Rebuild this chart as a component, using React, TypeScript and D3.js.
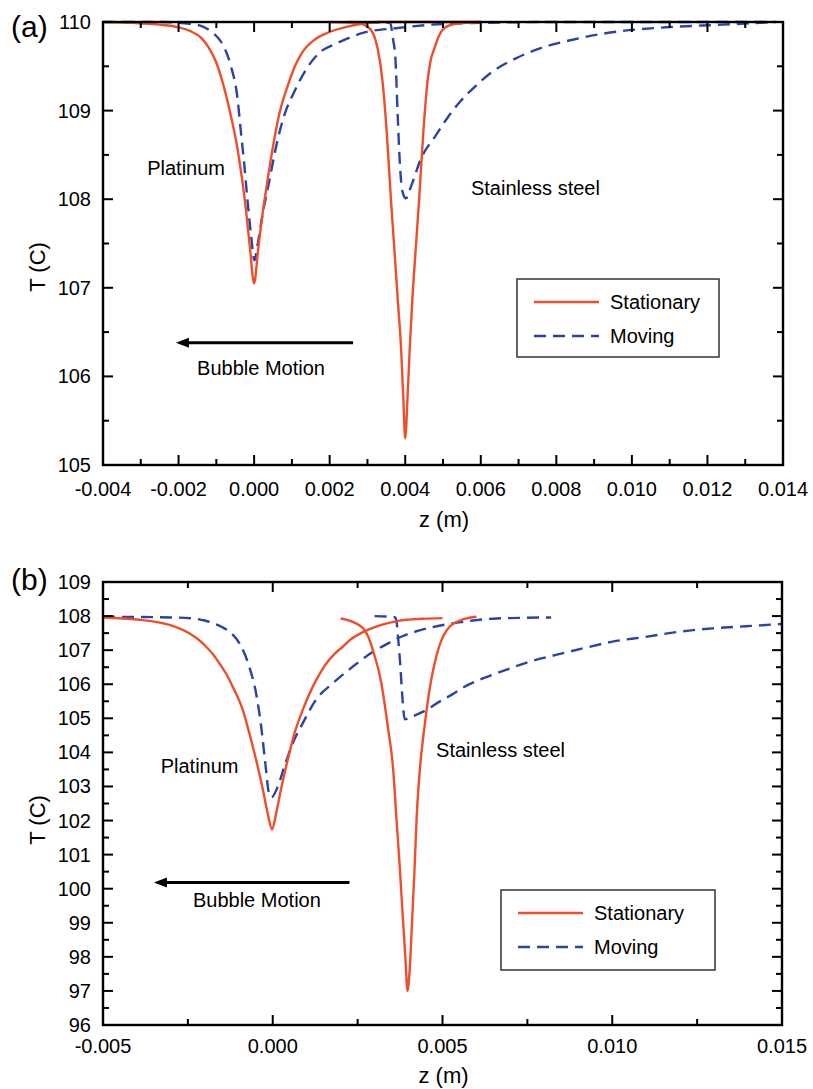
import React from "react";
import * as d3 from "d3";

type Pt = [number, number];

// ---- panel (a) ----
const aXTicks = [-0.004, -0.002, 0, 0.002, 0.004, 0.006, 0.008, 0.01, 0.012, 0.014];
const aYTicks = [105, 106, 107, 108, 109, 110];

const aPtStationary: Pt[] = [
  [-0.004, 110], [-0.0032, 109.99], [-0.0025, 109.97], [-0.002, 109.94], [-0.0017, 109.9],
  [-0.0014, 109.82], [-0.0012, 109.71], [-0.001, 109.54], [-0.00084, 109.33], [-0.00062, 108.95],
  [-0.00044, 108.57], [-0.00031, 108.2], [-0.0002, 107.82], [-0.00011, 107.45], [0, 107.05],
  [0.00011, 107.45], [0.00022, 107.82], [0.00035, 108.2], [0.00049, 108.57], [0.00066, 108.95],
  [0.00093, 109.33], [0.0011, 109.52], [0.00128, 109.66], [0.0016, 109.8], [0.0019, 109.87],
  [0.0026, 109.96], [0.0033, 110], [0.006, 110],
];
const aSsStationary: Pt[] = [
  [0.002, 110], [0.0027, 109.99], [0.00305, 109.93], [0.00318, 109.84], [0.00327, 109.7],
  [0.0034, 109.33], [0.00351, 108.76], [0.00362, 108.01], [0.00371, 107.45], [0.0038, 106.88],
  [0.00389, 106.32], [0.00395, 105.75], [0.004, 105.3], [0.00406, 105.75], [0.00412, 106.32],
  [0.00419, 106.88], [0.00428, 107.45], [0.00437, 108.01], [0.00448, 108.76], [0.00459, 109.33],
  [0.00467, 109.56], [0.00477, 109.7], [0.0049, 109.85], [0.00503, 109.93], [0.00534, 109.98],
  [0.006, 110],
];
const aPtMoving: Pt[] = [
  [-0.004, 110], [-0.0025, 110], [-0.0017, 109.98], [-0.00137, 109.95], [-0.0011, 109.88],
  [-0.00088, 109.78], [-0.00062, 109.51], [-0.00044, 109.14], [-0.00035, 108.76], [-0.00026, 108.39],
  [-0.00018, 108.01], [-0.00009, 107.63], [0.00001, 107.31], [0.00009, 107.48], [0.00022, 107.82],
  [0.0004, 108.2], [0.00057, 108.57], [0.0008, 108.95], [0.00106, 109.21], [0.00137, 109.46],
  [0.00172, 109.65], [0.00214, 109.75], [0.00256, 109.83], [0.0029, 109.88], [0.00375, 109.93],
  [0.0047, 109.97], [0.006, 109.99], [0.008, 110], [0.0138, 110],
];
const aSsMoving: Pt[] = [
  [0.0025, 110], [0.0036, 109.99], [0.00368, 109.8], [0.00374, 109.59], [0.0038, 108.95],
  [0.00386, 108.39], [0.00393, 108.08], [0.00402, 108.01], [0.00415, 108.14], [0.00442, 108.46],
  [0.00481, 108.72], [0.00512, 108.92], [0.00545, 109.1], [0.00587, 109.28], [0.00631, 109.44],
  [0.00693, 109.59], [0.00755, 109.7], [0.00843, 109.8], [0.00958, 109.89], [0.0109, 109.94],
  [0.0124, 109.97], [0.0138, 110],
];

// ---- panel (b) ----
const bXTicks = [-0.005, 0, 0.005, 0.01, 0.015];
const bYTicks = [96, 97, 98, 99, 100, 101, 102, 103, 104, 105, 106, 107, 108, 109];

const bPtStationary: Pt[] = [
  [-0.005, 107.96], [-0.004, 107.9], [-0.00304, 107.74], [-0.00245, 107.49], [-0.0022, 107.32],
  [-0.00196, 107.1], [-0.00176, 106.88], [-0.00157, 106.61], [-0.00137, 106.3], [-0.00118, 105.93],
  [-0.00088, 105.24], [-0.00069, 104.56], [-0.00049, 103.78], [-0.00029, 102.9], [-0.00015, 102.21],
  [-0.00002, 101.74], [0.0001, 102.21], [0.00024, 102.9], [0.00044, 103.78], [0.00064, 104.56],
  [0.00088, 105.24], [0.00118, 105.93], [0.00137, 106.28], [0.00157, 106.6], [0.0018, 106.87],
  [0.00206, 107.1], [0.0023, 107.32], [0.0026, 107.5], [0.0032, 107.74], [0.0037, 107.86],
  [0.0044, 107.92], [0.005, 107.94],
];
const bSsStationary: Pt[] = [
  [0.002, 107.93], [0.00236, 107.83], [0.00266, 107.64], [0.00282, 107.38], [0.00295, 107.0],
  [0.0032, 106.03], [0.00339, 104.75], [0.00354, 103.58], [0.00364, 102.11], [0.00374, 100.65],
  [0.00383, 99.18], [0.00391, 97.91], [0.00397, 97.0], [0.00405, 97.91], [0.00411, 99.18],
  [0.00418, 100.65], [0.00424, 102.11], [0.00434, 103.58], [0.00447, 104.75], [0.00465, 106.03],
  [0.00477, 106.62], [0.0049, 107.1], [0.0052, 107.68], [0.0056, 107.9], [0.006, 107.98],
];
const bPtMoving: Pt[] = [
  [-0.005, 107.98], [-0.003, 107.96], [-0.00235, 107.93], [-0.002, 107.87], [-0.00176, 107.79],
  [-0.0015, 107.68], [-0.00127, 107.54], [-0.00098, 107.2], [-0.00069, 106.51], [-0.00049, 105.73],
  [-0.00034, 104.75], [-0.00023, 103.78], [-0.0001, 102.75], [-0.00004, 102.68], [0.00015, 103.0],
  [0.00034, 103.58], [0.00059, 104.27], [0.00088, 104.85], [0.00127, 105.54], [0.00176, 106.02],
  [0.00235, 106.51], [0.00292, 106.93], [0.0034, 107.2], [0.0038, 107.4], [0.0044, 107.6],
  [0.0052, 107.77], [0.0059, 107.87], [0.0066, 107.93], [0.0082, 107.96],
];
const bSsMoving: Pt[] = [
  [0.003, 108.0], [0.00359, 107.97], [0.00364, 107.88], [0.00369, 107.39], [0.00376, 106.51],
  [0.00381, 105.73], [0.00389, 104.97], [0.0041, 105.05], [0.00452, 105.24], [0.00491, 105.49],
  [0.0053, 105.71], [0.0056, 105.9], [0.00619, 106.17], [0.00687, 106.42], [0.00756, 106.66],
  [0.00834, 106.86], [0.00913, 107.05], [0.01001, 107.25], [0.01099, 107.39], [0.01197, 107.54],
  [0.01295, 107.64], [0.01393, 107.7], [0.015, 107.77],
];

const seriesNames = ["Stationary", "Moving"];

const RED = "#ee4f2a";
const BLUE = "#2c43a6";
const DASH = "12,7";
const FONT = "'Liberation Sans', Arial, Helvetica, sans-serif";

const panelA = {
  tag: "(a)", tagY: 37, top: 22, left: 103, width: 680, height: 443,
  xDomain: [-0.004, 0.014], yDomain: [105, 110], xTicks: aXTicks, yTicks: aYTicks,
  xMinor: 0.001, yMinor: 0.5,
  stationary: [aPtStationary, aSsStationary], moving: [aPtMoving, aSsMoving],
  platinum: [-0.00283, 108.27], steel: [0.00574, 108.05],
  arrow: [0.00262, -0.00207, 106.38], bubble: [-0.00151, 106.02],
  legend: [517, 279, 202, 78], xLabelDy: 31, axisLabelDy: 62, yLabelY: 267,
};
const panelB = {
  tag: "(b)", tagY: 590, top: 582, left: 103, width: 679, height: 443,
  xDomain: [-0.005, 0.015], yDomain: [96, 109], xTicks: bXTicks, yTicks: bYTicks,
  xMinor: 0.0025, yMinor: 0.5,
  stationary: [bPtStationary, bSsStationary], moving: [bPtMoving, bSsMoving],
  platinum: [-0.0033, 103.4], steel: [0.00481, 103.87],
  arrow: [0.00226, -0.0035, 100.18], bubble: [-0.00235, 99.47],
  legend: [501, 890, 214, 80], xLabelDy: 28, axisLabelDy: 58, yLabelY: 820,
};

function steps(d: number[], step: number) {
  const n = Math.round((d[1] - d[0]) / step);
  return d3.range(n + 1).map((i) => d[0] + i * step);
}

// plain hyphen minus, as in the original figure
const fmtX = (v: number) => (v < -1e-12 ? "-" : "") + Math.abs(v).toFixed(3);

function Panel({ p }: { p: any }) {
  const x = d3.scaleLinear().domain(p.xDomain).range([p.left, p.left + p.width]);
  const y = d3.scaleLinear().domain(p.yDomain).range([p.top + p.height, p.top]);
  const line = d3.line<Pt>().x((d) => x(d[0])).y((d) => y(d[1])).curve(d3.curveMonotoneX);
  const bottom = p.top + p.height;
  const right = p.left + p.width;
  const isMajor = (v: number, list: number[]) => list.some((t) => Math.abs(t - v) < 1e-9);
  const xt = steps(p.xDomain, p.xMinor);
  const yt = steps(p.yDomain, p.yMinor);
  const clipId = "clip" + p.tag.replace(/\W/g, "");
  const [lx, ly, lw, lh] = p.legend;
  const ay = y(p.arrow[2]);
  const ax0 = x(p.arrow[0]);
  const ax1 = x(p.arrow[1]);

  return (
    <g fontFamily={FONT}>
      <defs>
        <clipPath id={clipId}>
          <rect x={p.left} y={p.top - 2} width={p.width} height={p.height + 2} />
        </clipPath>
      </defs>
      <text x={11} y={p.tagY} fontSize={30}>{p.tag}</text>

      <g clipPath={`url(#${clipId})`} fill="none" strokeWidth={2.4}>
        {p.moving.map((s: Pt[], i: number) => (
          <path key={"m" + i} d={line(s) || ""} stroke={BLUE} strokeDasharray={DASH} />
        ))}
        {p.stationary.map((s: Pt[], i: number) => (
          <path key={"s" + i} d={line(s) || ""} stroke={RED} />
        ))}
      </g>

      {/* ticks, all inward on four sides */}
      <g stroke="#000" strokeWidth={2}>
        {xt.map((v, i) => {
          const len = isMajor(v, p.xTicks) ? 10 : 6;
          return (
            <g key={"xt" + i}>
              <line x1={x(v)} x2={x(v)} y1={bottom} y2={bottom - len} />
              <line x1={x(v)} x2={x(v)} y1={p.top} y2={p.top + len} />
            </g>
          );
        })}
        {yt.map((v, i) => {
          const len = isMajor(v, p.yTicks) ? 10 : 6;
          return (
            <g key={"yt" + i}>
              <line x1={p.left} x2={p.left + len} y1={y(v)} y2={y(v)} />
              <line x1={right} x2={right - len} y1={y(v)} y2={y(v)} />
            </g>
          );
        })}
      </g>
      <rect x={p.left} y={p.top} width={p.width} height={p.height} fill="none" stroke="#000" strokeWidth={2.4} />

      {p.xTicks.map((v: number, i: number) => (
        <text key={"xl" + i} x={x(v)} y={bottom + p.xLabelDy} fontSize={20} textAnchor="middle">
          {fmtX(v)}
        </text>
      ))}
      {p.yTicks.map((v: number, i: number) => (
        <text key={"yl" + i} x={p.left - 12} y={y(v)} dy="0.35em" fontSize={20} textAnchor="end">
          {v}
        </text>
      ))}
      <text x={(p.left + right) / 2 + 1} y={bottom + p.axisLabelDy} fontSize={22} textAnchor="middle">z (m)</text>
      <text transform={`translate(45,${p.yLabelY}) rotate(-90)`} fontSize={22} textAnchor="middle">T (C)</text>

      <text x={x(p.platinum[0])} y={y(p.platinum[1])} fontSize={20}>Platinum</text>
      <text x={x(p.steel[0])} y={y(p.steel[1])} fontSize={20}>Stainless steel</text>

      <line x1={ax0} x2={ax1 + 10} y1={ay} y2={ay} stroke="#000" strokeWidth={3} />
      <path d={`M${ax1},${ay} L${ax1 + 13},${ay - 5} L${ax1 + 13},${ay + 5} Z`} fill="#000" />
      <text x={x(p.bubble[0])} y={y(p.bubble[1])} fontSize={20}>Bubble Motion</text>

      <rect x={lx} y={ly} width={lw} height={lh} fill="#fff" stroke="#333" strokeWidth={1.5} />
      <line x1={lx + 17} x2={lx + 82} y1={ly + 23} y2={ly + 23} stroke={RED} strokeWidth={2.4} />
      <text x={lx + 93} y={ly + 30} fontSize={20}>{seriesNames[0]}</text>
      <line x1={lx + 17} x2={lx + 82} y1={ly + 57} y2={ly + 57} stroke={BLUE} strokeWidth={2.4} strokeDasharray={DASH} />
      <text x={lx + 93} y={ly + 64} fontSize={20}>{seriesNames[1]}</text>
    </g>
  );
}

export default function App() {
  return (
    <svg
      width={813}
      height={1089}
      style={{ position: "absolute", left: 0, top: 0, background: "#fff" }}
    >
      <rect width={813} height={1089} fill="#fff" />
      <Panel p={panelA} />
      <Panel p={panelB} />
    </svg>
  );
}
